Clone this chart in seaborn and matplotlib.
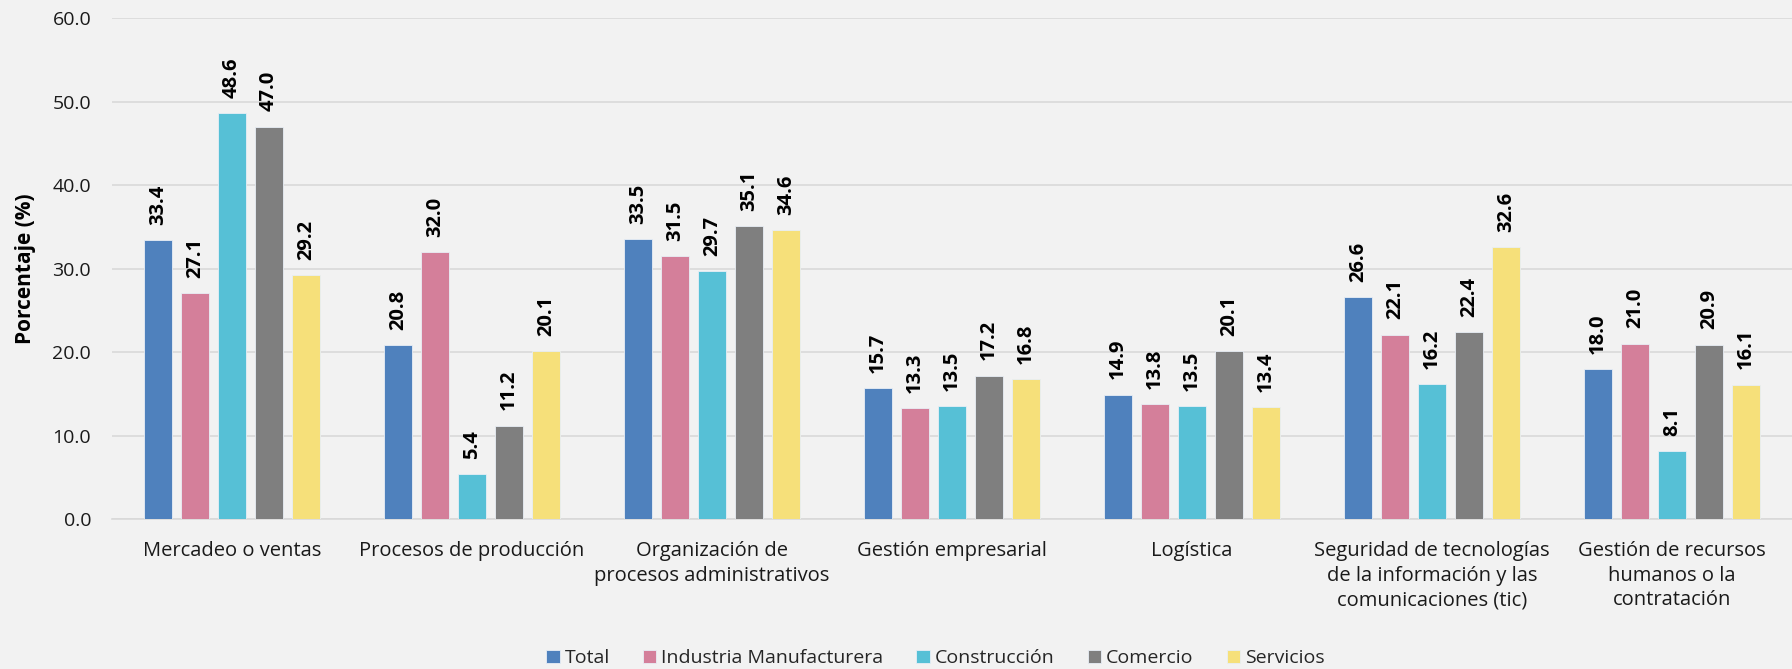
import matplotlib
matplotlib.use("Agg")
import matplotlib.pyplot as plt
import seaborn as sns
import pandas as pd

categories = [
    "Mercadeo o ventas",
    "Procesos de producción",
    "Organización de\nprocesos administrativos",
    "Gestión empresarial",
    "Logística",
    "Seguridad de tecnologías\nde la información y las\ncomunicaciones (tic)",
    "Gestión de recursos\nhumanos o la\ncontratación",
]
sectors = ["Total", "Industria Manufacturera", "Construcción", "Comercio", "Servicios"]

total = [33.4, 20.8, 33.5, 15.7, 14.9, 26.6, 18.0]
industria = [27.1, 32.0, 31.5, 13.3, 13.8, 22.1, 21.0]
construccion = [48.6, 5.4, 29.7, 13.5, 13.5, 16.2, 8.1]
comercio = [47.0, 11.2, 35.1, 17.2, 20.1, 22.4, 20.9]
servicios = [29.2, 20.1, 34.6, 16.8, 13.4, 32.6, 16.1]

colors = ["#4f81bd", "#d47f9a", "#56c0d6", "#7f7f7f", "#f6e07a"]
bg = "#f2f2f2"

rows = []
for sector, vals in zip(sectors, [total, industria, construccion, comercio, servicios]):
    for cat, v in zip(categories, vals):
        rows.append({"categoria": cat, "sector": sector, "valor": v})
df = pd.DataFrame(rows)

sns.set_theme(style="white")
plt.rcParams["font.family"] = ["Open Sans", "DejaVu Sans"]

fig = plt.figure(figsize=(17.92, 6.69), dpi=100, facecolor=bg)
ax = fig.add_axes([0.0625, 0.224, 0.9375, 0.749], facecolor=bg)

sns.barplot(
    data=df, x="categoria", y="valor", hue="sector",
    order=categories, hue_order=sectors, palette=colors, saturation=1,
    width=0.77, gap=0.22, edgecolor="#e8eef5", linewidth=0.6,
    errorbar=None, ax=ax, zorder=3,
)

for container in ax.containers:
    ax.bar_label(container, fmt="%.1f", rotation=90, padding=11,
                 fontsize=14.5, fontweight="bold", color="#000000")

ax.set_ylim(0, 60)
ax.set_yticks(range(0, 61, 10))
ax.set_yticklabels([f"{v:.1f}" for v in range(0, 61, 10)], fontsize=14, color="#1a1a1a")
ax.tick_params(axis="y", length=0, pad=15)
ax.tick_params(axis="x", length=0, pad=16, labelsize=14.5, labelcolor="#1a1a1a")
for lbl in ax.get_xticklabels():
    lbl.set_linespacing(1.3)
ax.set_xlabel("")
ax.set_ylabel("Porcentaje (%)", fontsize=15, fontweight="bold", color="#000000", labelpad=12)
ax.set_xlim(-0.5, len(categories) - 0.5)

ax.grid(axis="y", color="#d9d9d9", linewidth=1.2, zorder=0)
ax.set_axisbelow(True)
for side in ["top", "right", "left"]:
    ax.spines[side].set_visible(False)
ax.spines["bottom"].set_color("#d9d9d9")
ax.spines["bottom"].set_linewidth(1.2)

handles, labels = ax.get_legend_handles_labels()
ax.legend_.remove()
fig.legend(handles, labels, loc="center", bbox_to_anchor=(0.522, 0.016), ncol=5,
           frameon=False, fontsize=14, handlelength=0.7, handleheight=0.7,
           handletextpad=0.25, columnspacing=1.7, borderaxespad=0)

fig.savefig("out.png", dpi=100, facecolor=bg)
